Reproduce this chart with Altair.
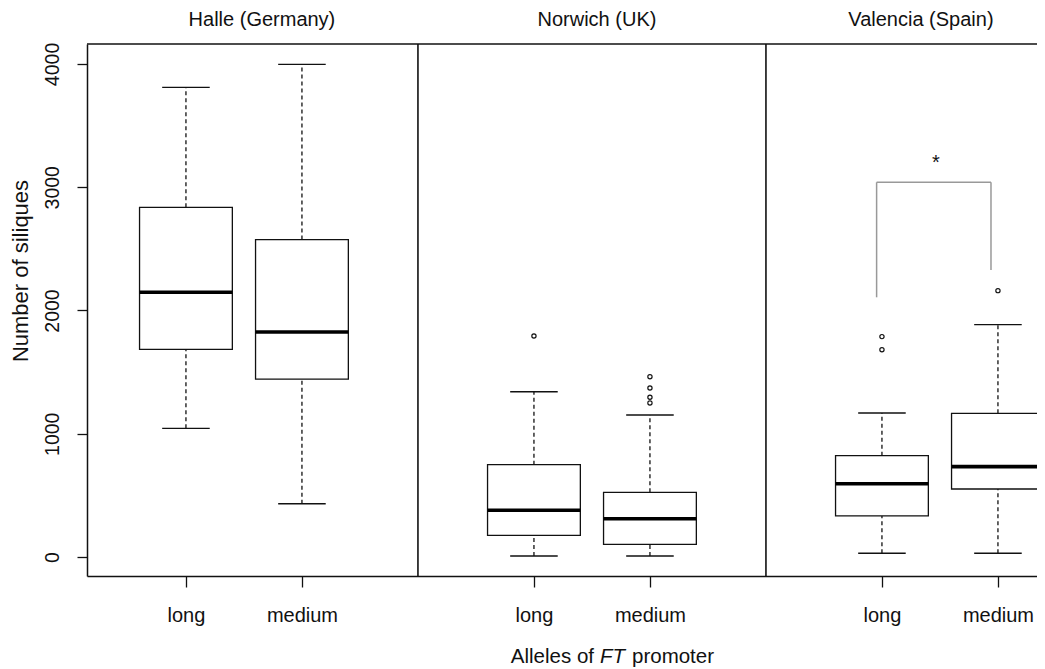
import altair as alt
import pandas as pd

# ---- data ----
sites = ["Halle (Germany)", "Norwich (UK)", "Valencia (Spain)"]
alleles = ["long", "medium"]
# one value per (site, allele) in order: Halle long, Halle medium, Norwich long, ...
whisker_low = [1044, 432, 8, 8, 30, 30]
quartile1 = [1685, 1444, 176, 103, 333, 552]
medians = [2148, 1826, 379, 311, 595, 733]
quartile3 = [2837, 2575, 749, 525, 822, 1166]
whisker_high = [3810, 3997, 1341, 1152, 1168, 1885]

outlier_site = ["Norwich (UK)", "Norwich (UK)", "Norwich (UK)", "Norwich (UK)", "Norwich (UK)",
                "Valencia (Spain)", "Valencia (Spain)", "Valencia (Spain)"]
outlier_allele = ["long", "medium", "medium", "medium", "medium", "long", "long", "medium"]
outlier_value = [1793, 1463, 1371, 1296, 1250, 1788, 1682, 2161]

y_ticks = [0, 1000, 2000, 3000, 4000]

# significance bracket (Valencia long vs medium)
bracket_left_value = 2107
bracket_right_value = 2329
bracket_top_value = 3040
significance_label = "*"

# ---- layout helpers ----
def slot(site, allele):
    return 3 * sites.index(site) + alleles.index(allele) + 1

rows = []
k = 0
for s in sites:
    for a in alleles:
        rows.append(dict(site=s, allele=a, pos=slot(s, a), lo=whisker_low[k], q1=quartile1[k],
                         med=medians[k], q3=quartile3[k], hi=whisker_high[k]))
        k += 1
box_df = pd.DataFrame(rows)

out_df = pd.DataFrame(dict(site=outlier_site, allele=outlier_allele, value=outlier_value))
out_df["pos"] = [slot(s, a) for s, a in zip(outlier_site, outlier_allele)]

W, H = 950, 532
FONT = "Liberation Sans"
INK = "#111111"

xs = alt.Scale(domain=[0.147, 0.147 + W / 116.0], nice=False, zero=False)
ys = alt.Scale(domain=[-154, 4162], nice=False, zero=False)

label_expr = f"datum.value % 3 == 1 ? '{alleles[0]}' : '{alleles[1]}'"
xaxis = alt.Axis(values=[1, 2, 4, 5, 7, 8], labelExpr=label_expr, title=None, grid=False,
                 tickSize=11, labelPadding=34, labelBaseline="alphabetic", labelFontSize=20,
                 labelFlush=False, labelOverlap=False)
yaxis = alt.Axis(values=y_ticks, format="d", title=None, grid=False, tickSize=10, labelAngle=270,
                 labelAlign="center", labelBaseline="alphabetic", labelPadding=19,
                 labelFontSize=19.5, labelFlush=False, labelOverlap=False)

base = alt.Chart(box_df).transform_calculate(
    xl="datum.pos - 0.4", xr="datum.pos + 0.4",
    cl="datum.pos - 0.205", cr="datum.pos + 0.205")

X = lambda f: alt.X(f, scale=xs, axis=xaxis)
Y = lambda f: alt.Y(f, scale=ys, axis=yaxis)

whisk_up = base.mark_rule(color=INK, strokeWidth=1.3, strokeDash=[4, 3]).encode(
    x=X("pos:Q"), y=Y("q3:Q"), y2="hi:Q")
whisk_lo = base.mark_rule(color=INK, strokeWidth=1.3, strokeDash=[4, 3]).encode(
    x=X("pos:Q"), y=Y("lo:Q"), y2="q1:Q")
cap_up = base.mark_rule(color=INK, strokeWidth=1.4).encode(x=X("cl:Q"), x2="cr:Q", y=Y("hi:Q"))
cap_lo = base.mark_rule(color=INK, strokeWidth=1.4).encode(x=X("cl:Q"), x2="cr:Q", y=Y("lo:Q"))
boxes = base.mark_rect(fill="white", stroke=INK, strokeWidth=1.3).encode(
    x=X("xl:Q"), x2="xr:Q", y=Y("q1:Q"), y2="q3:Q")
med = base.mark_rule(color="#000000", strokeWidth=3.6).encode(x=X("xl:Q"), x2="xr:Q", y=Y("med:Q"))

outliers = alt.Chart(out_df).mark_point(shape="circle", filled=False, size=18, stroke=INK,
                                        strokeWidth=1.2, opacity=1).encode(
    x=X("pos:Q"), y=Y("value:Q"))

# frame: top line and panel dividers
top_line = alt.Chart(pd.DataFrame({"k": [0]})).mark_rule(color=INK, strokeWidth=1.5).encode(
    x=alt.value(0), x2=alt.value(W), y=alt.value(0))
div_df = pd.DataFrame({"b": [3, 6]})
dividers = alt.Chart(div_df).mark_rule(color=INK, strokeWidth=1.6).encode(
    x=X("b:Q"), y=alt.value(0), y2=alt.value(H))

# significance bracket
br_df = pd.DataFrame({
    "x": [6.954, 7.94, 6.954],
    "x2": [6.954, 7.94, 7.94],
    "y": [bracket_left_value, bracket_right_value, bracket_top_value],
    "y2": [bracket_top_value, bracket_top_value, bracket_top_value],
})
bracket = alt.Chart(br_df).mark_rule(color="#999999", strokeWidth=1.5).encode(
    x=X("x:Q"), x2="x2:Q", y=Y("y:Q"), y2="y2:Q")
star = alt.Chart(pd.DataFrame({"x": [7.466], "y": [3144], "t": [significance_label]})).mark_text(
    font=FONT, fontSize=20, color=INK, align="center", baseline="alphabetic").encode(
    x=X("x:Q"), y=Y("y:Q"), text="t:N")

# panel titles
title_df = pd.DataFrame({"x": [1.655, 4.543, 7.336], "t": sites})
titles = alt.Chart(title_df).mark_text(font=FONT, fontSize=20, color=INK, align="center",
                                       baseline="alphabetic").encode(
    x=X("x:Q"), y=alt.value(-18), text="t:N")

# axis titles
ytitle = alt.Chart(pd.DataFrame({"t": ["Number of siliques"]})).mark_text(
    font=FONT, fontSize=22, color=INK, align="center", baseline="alphabetic", angle=270).encode(
    x=alt.value(-59.5), y=alt.value(227), text="t:N")
xt1 = alt.Chart(pd.DataFrame({"t": ["Alleles of"]})).mark_text(
    font=FONT, fontSize=20.5, color=INK, align="right", baseline="alphabetic").encode(
    x=alt.value(507), y=alt.value(619), text="t:N")
xt2 = alt.Chart(pd.DataFrame({"t": ["FT"]})).mark_text(
    font=FONT, fontSize=20.5, fontStyle="italic", color=INK, align="left", baseline="alphabetic").encode(
    x=alt.value(513), y=alt.value(619), text="t:N")
xt3 = alt.Chart(pd.DataFrame({"t": ["promoter"]})).mark_text(
    font=FONT, fontSize=20.5, color=INK, align="left", baseline="alphabetic").encode(
    x=alt.value(545), y=alt.value(619), text="t:N")

chart = alt.layer(
    top_line, dividers, bracket, whisk_up, whisk_lo, cap_up, cap_lo, boxes, med, outliers,
    star, titles, ytitle, xt1, xt2, xt3
).properties(
    width=W, height=H,
    autosize=alt.AutoSizeParams(type="none"),
    padding={"left": 79, "top": 36, "right": 0, "bottom": 93},
    background="white",
).configure_view(stroke=None).configure_axis(
    domainColor=INK, domainWidth=1.5, tickColor=INK, tickWidth=1.3,
    labelColor=INK, labelFont=FONT,
)

chart.save("out.html", embed_options={"renderer": "svg", "actions": False})
